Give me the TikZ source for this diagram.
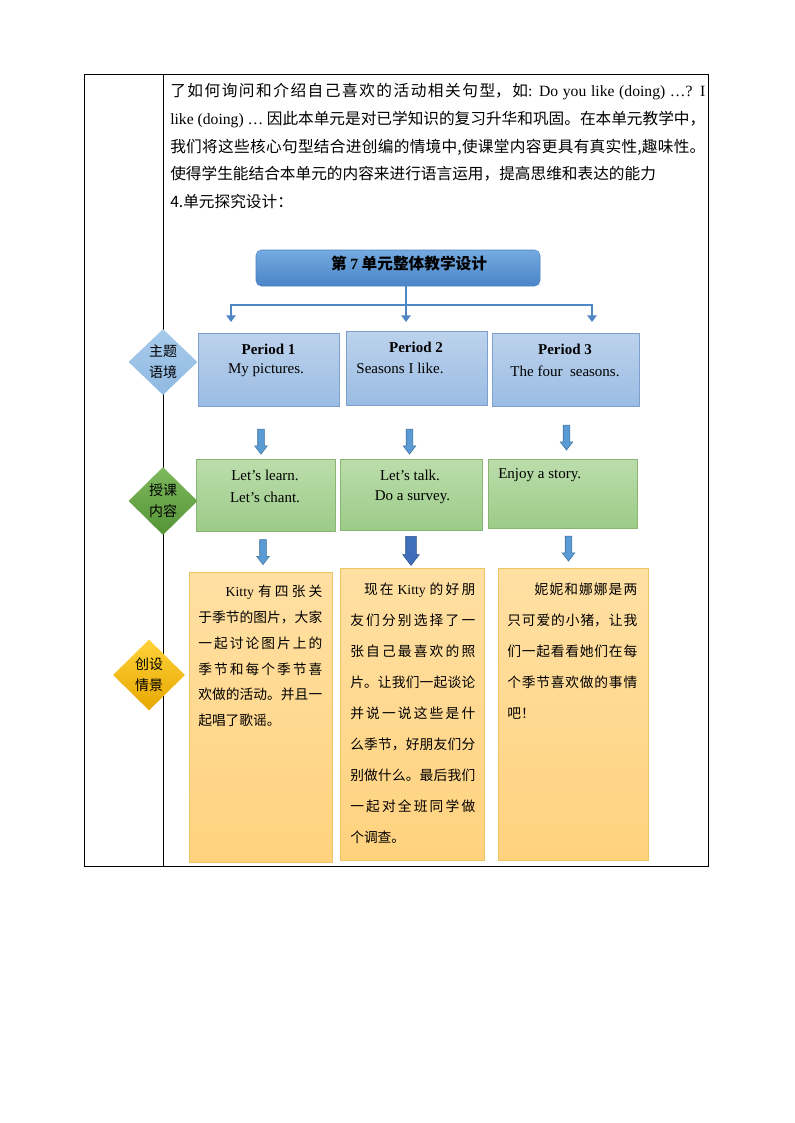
\documentclass[tikz,border=0pt]{standalone}
\usepackage{fontspec}
\setmainfont{Liberation Serif}
\newfontfamily\cjk{Noto Sans CJK SC}
\usetikzlibrary{arrows.meta,shapes.geometric,shapes.arrows,fit}
\XeTeXlinebreaklocale "zh"
\XeTeXlinebreakskip=0pt plus 3pt minus 0.5pt

\definecolor{connblue}{HTML}{4F86C6}
\definecolor{titletop}{HTML}{74AAE0}
\definecolor{titlebot}{HTML}{4A85C6}
\definecolor{periodtop}{HTML}{BCD2EC}
\definecolor{periodbot}{HTML}{9BBCE3}
\definecolor{periodline}{HTML}{7E9ECB}
\definecolor{contenttop}{HTML}{BCDDAC}
\definecolor{contentbot}{HTML}{9CCB88}
\definecolor{contentline}{HTML}{88B672}
\definecolor{scenetop}{HTML}{FFE0A3}
\definecolor{scenebot}{HTML}{FFD27E}
\definecolor{sceneline}{HTML}{EEC565}
\definecolor{arrowfill}{HTML}{5B9BD5}
\definecolor{arrowline}{HTML}{41719C}
\definecolor{bigarrowfill}{HTML}{3F6FB8}
\definecolor{bigarrowline}{HTML}{2F528F}
\definecolor{themetop}{HTML}{A8CBEB}
\definecolor{themebot}{HTML}{90B9E2}
\definecolor{lessontop}{HTML}{7FB95D}
\definecolor{lessonbot}{HTML}{549436}
\definecolor{scenetagtop}{HTML}{FFD23A}
\definecolor{scenetagbot}{HTML}{E6A700}

\tikzset{
	panel/.style={draw, inner sep=0pt},
	pbox/.style={panel, draw=periodline, top color=periodtop, bottom color=periodbot},
	cbox/.style={panel, draw=contentline, top color=contenttop, bottom color=contentbot},
	sbox/.style={panel, draw=sceneline, top color=scenetop, bottom color=scenebot},
	tagdiamond/.style={diamond, inner sep=0pt, align=center, font=\cjk\fontsize{10.5}{15.5}\selectfont},
	barrow/.style={single arrow, rotate=-90, draw=arrowline, fill=arrowfill, inner sep=2.25pt,
		single arrow head extend=2.25pt, single arrow head indent=0pt, single arrow tip angle=75,
		minimum height=18.75pt},
	conn/.style={draw=connblue, line width=2pt},
	entxt/.style={inner sep=0pt, font=\fontsize{11.25}{16}\selectfont},
	zhpar/.style={inner sep=0pt, anchor=north west, align=justify}
}

\begin{document}
\begin{tikzpicture}[x=0.75pt,y=-0.75pt]
	\useasboundingbox (0,0) rectangle (794,1123);

	% table
	\draw[line width=0.75pt] (84,75) rectangle (708,866);
	\draw[line width=0.75pt] (163,75) -- (163,866);

	% intro text
	\node[zhpar, text width=401.25pt, font=\cjk\fontsize{11.75}{20.8}\selectfont] (intro) at (170,83)
		{了如何询问和介绍自己喜欢的活动相关句型，如{\rmfamily: Do you like (doing) …? I}\linebreak
		{\rmfamily like (doing) …} 因此本单元是对已学知识的复习升华和巩固。在本单元教学中，\linebreak
		我们将这些核心句型结合进创编的情境中,使课堂内容更具有真实性,趣味性。\linebreak
		使得学生能结合本单元的内容来进行语言运用，提高思维和表达的能力\par
		4.单元探究设计：};

	% title bar
	\node[panel, rounded corners=4pt, draw=titlebot, top color=titletop, bottom color=titlebot, fit={(256,250) (540,286)}] (title) {};
	\node[inner sep=0pt, font=\cjk\bfseries\fontsize{11.75}{14}\selectfont] (titletxt) at (409,264) {第 {\rmfamily\bfseries 7} 单元整体教学设计};

	% connectors
	\coordinate (hub) at (406,305);
	\coordinate (a1) at (231,322);
	\coordinate (a2) at (406,322);
	\coordinate (a3) at (592,322);
	\draw[conn] (title.south -| hub) -- (hub);
	\draw[conn, -{Triangle[width=7pt,length=5pt]}] (hub) -| (a1);
	\draw[conn, -{Triangle[width=7pt,length=5pt]}] (hub) -- (a2);
	\draw[conn, -{Triangle[width=7pt,length=5pt]}] (hub) -| (a3);

	% period boxes
	\node[pbox, fit={(198,333) (339,406)}] (p1) {};
	\node[pbox, fit={(346,331) (487,405)}] (p2) {};
	\node[pbox, fit={(492,333) (639,406)}] (p3) {};
	\node[entxt, font=\fontsize{11.25}{16}\selectfont\bfseries] (p1h) at (268.5,349) {Period 1};
	\node[entxt] (p1t) at (266,370) {My pictures.};
	\node[entxt, font=\fontsize{11.25}{16}\selectfont\bfseries] (p2h) at (416,347) {Period 2};
	\node[entxt] (p2t) at (400,368) {Seasons I like.};
	\node[entxt, font=\fontsize{11.25}{16}\selectfont\bfseries] (p3h) at (565,349) {Period 3};
	\node[entxt] (p3t) at (565,371) {The four\ \ seasons.};

	% arrows to content
	\node[barrow] (d1) at (261,439.5) {};
	\node[barrow] (d2) at (409.5,439.5) {};
	\node[barrow] (d3) at (566.5,435.5) {};

	% content boxes
	\node[cbox, fit={(196,459) (335,531)}] (c1) {};
	\node[cbox, fit={(340,459) (482,530)}] (c2) {};
	\node[cbox, fit={(488,459) (637,528)}] (c3) {};
	\node[entxt] (c1a) at (265,475) {Let’s learn.};
	\node[entxt] (c1b) at (265,497) {Let’s chant.};
	\node[entxt] (c2a) at (410,475) {Let’s talk.};
	\node[entxt] (c2b) at (412.5,497) {Do a survey.};
	\node[entxt, anchor=west] (c3a) at (498,475) {Enjoy a story.};

	% arrows to scenes
	\node[barrow] (e1) at (263,550) {};
	\node[barrow, fill=bigarrowfill, draw=bigarrowline, inner sep=3.75pt, minimum height=21.75pt] (e2) at (411,547.5) {};
	\node[barrow] (e3) at (568.5,546.5) {};

	% scene boxes
	\node[sbox, fit={(189,572) (332,862)}] (s1) {};
	\node[sbox, fit={(340,568) (484,860)}] (s2) {};
	\node[sbox, fit={(498,568) (648,860)}] (s3) {};
	\node[zhpar, text width=93pt, font=\cjk\fontsize{10.3}{19.3}\selectfont] (s1t) at (198,585)
		{\hspace*{2em}{\rmfamily Kitty} 有四张关\linebreak 于季节的图片，大家\linebreak 一起讨论图片上的\linebreak
		季节和每个季节喜\linebreak 欢做的活动。并且一\linebreak 起唱了歌谣。};
	\node[zhpar, text width=93.75pt, font=\cjk\fontsize{10.3}{23.25}\selectfont] (s2t) at (350,583)
		{\hspace*{1em}现在 {\rmfamily Kitty} 的好朋\linebreak 友们分别选择了一\linebreak 张自己最喜欢的照\linebreak
		片。让我们一起谈论\linebreak 并说一说这些是什\linebreak 么季节，好朋友们分\linebreak 别做什么。最后我们\linebreak
		一起对全班同学做\linebreak 个调查。};
	\node[zhpar, text width=97.5pt, font=\cjk\fontsize{10.3}{23.25}\selectfont] (s3t) at (507,583)
		{\hspace*{2em}妮妮和娜娜是两\linebreak 只可爱的小猪，让我\linebreak 们一起看看她们在每\linebreak
		个季节喜欢做的事情\linebreak 吧！};

	% side tags
	\node[tagdiamond, top color=themetop, bottom color=themebot, minimum width=51.75pt, minimum height=49.5pt] (t1) at (163,362) {主题\\语境};
	\node[tagdiamond, top color=lessontop, bottom color=lessonbot, minimum width=51.75pt, minimum height=51pt] (t2) at (163,501) {授课\\内容};
	\node[tagdiamond, top color=scenetagtop, bottom color=scenetagbot, minimum width=54pt, minimum height=53.25pt] (t3) at (149,675) {创设\\情景};

\end{tikzpicture}
\end{document}
